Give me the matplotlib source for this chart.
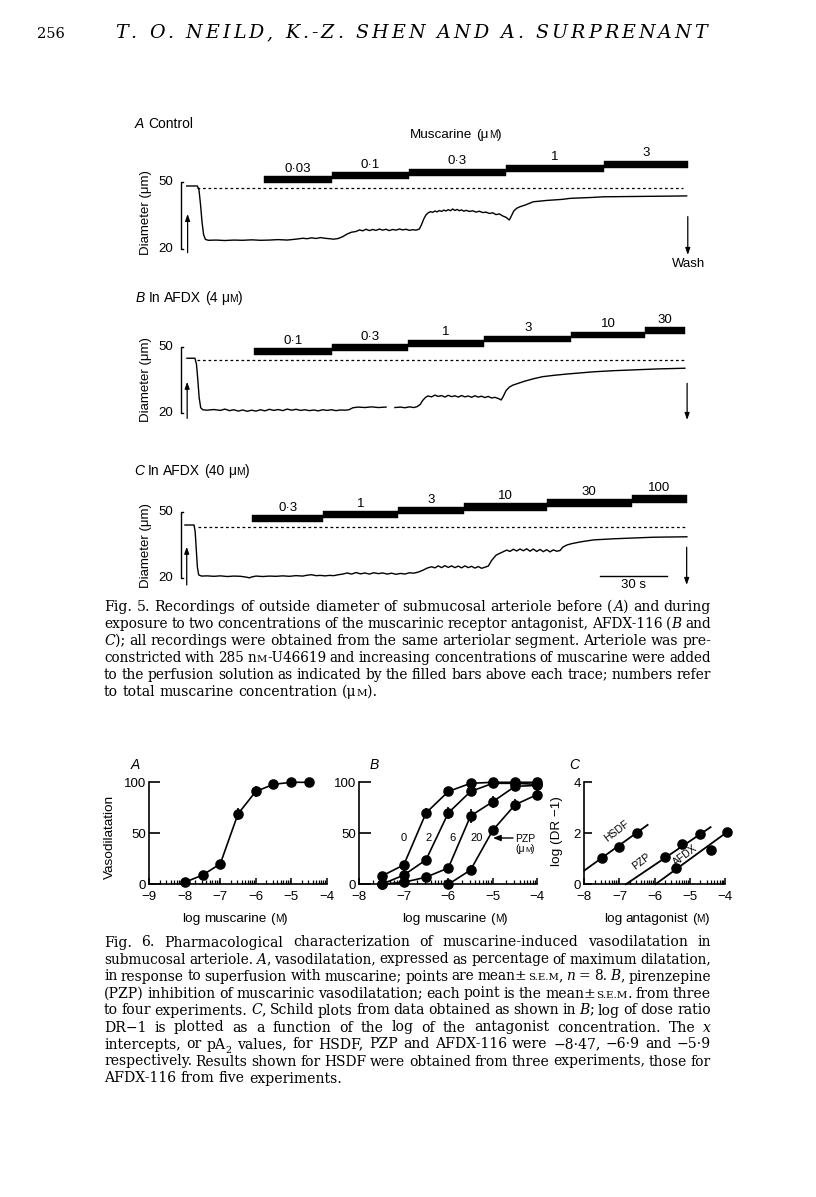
import re
import numpy as np
import matplotlib
matplotlib.use('Agg')
import matplotlib.pyplot as plt
from matplotlib.patches import Rectangle

plt.rcParams['font.family'] = ['Liberation Sans', 'DejaVu Sans']
plt.rcParams['axes.unicode_minus'] = True

W, H = 816, 1197
SANS = ['Liberation Sans', 'DejaVu Sans']
SERIF = ['DejaVu Serif']

# ------------------------------------------------------------------ data
# Fig. 5 recordings: (time s, outside diameter um)
trace_a = [(2.8, 48.1), (7.6, 48.1), (8.3, 46.5), (9.0, 40), (9.7, 32), (10.4, 26.5), (11.2, 24.4),
           (12.5, 24.0), (16, 24.1), (20, 23.9), (24, 24.1), (28, 24.0), (32, 24.2), (36, 24.0),
           (40, 24.1), (44, 24.3), (48, 24.1), (52, 24.5), (55, 24.9), (57, 24.7), (59, 25.1),
           (61, 24.8), (63, 25.2), (65, 24.9), (67, 24.7), (69, 24.5), (71, 24.8), (73, 25.6),
           (75, 26.8), (77, 27.6), (79, 27.9), (80.5, 28.6), (82, 28.2), (83.5, 28.9), (85, 28.3),
           (86.5, 28.8), (88, 28.4), (89.5, 29.0), (91, 28.5), (92.5, 28.9), (94, 28.3), (95.5, 28.8),
           (97, 28.5), (98.5, 29.0), (100, 28.6), (101.5, 28.9), (103, 28.4), (104.5, 28.7),
           (106, 28.5), (107.5, 29.0), (108.5, 31), (109.5, 33.5), (110.5, 35.3), (111.5, 36.2),
           (112.5, 36.7), (113.5, 36.4), (114.5, 37.0), (115.5, 36.6), (116.5, 37.2), (117.5, 36.8),
           (118.5, 37.4), (119.5, 37.0), (120.5, 37.6), (121.5, 37.1), (122.5, 37.9), (123.5, 37.2),
           (124.5, 37.7), (125.5, 37.1), (126.5, 37.5), (127.5, 36.9), (128.5, 37.3), (130, 36.8),
           (131.5, 37.1), (133, 36.5), (134.5, 36.9), (136, 36.3), (137.5, 36.5), (139, 35.9),
           (140.5, 36.2), (142, 35.4), (143.5, 35.7), (145, 34.8), (146.5, 34.2), (148, 33.0),
           (149, 35.0), (150, 37.0), (151.3, 38.2), (152.8, 38.9), (155, 39.6), (158.8, 41.1),
           (162, 41.4), (165, 41.7), (168, 41.9), (171, 42.1), (173, 42.3), (175.3, 42.6),
           (180, 42.8), (185, 43.0), (190.3, 43.3), (200, 43.4), (210, 43.5), (220, 43.6),
           (227.8, 43.7)]
trace_b = [(2.9, 44.8), (6.5, 44.8), (7.2, 42), (7.8, 35), (8.4, 27), (9.1, 22.5), (10, 21.6),
           (12, 21.4), (15, 21.7), (18, 21.3), (20, 21.9), (22, 21.2), (24, 21.6), (26, 21.0),
           (28, 21.5), (30, 20.9), (32, 21.4), (34, 21.0), (36, 21.6), (38, 21.1), (40, 21.8),
           (42, 21.3), (44, 21.7), (46, 21.2), (48, 21.9), (50, 21.4), (52, 21.8), (54, 21.3),
           (56, 21.6), (58, 21.2), (60, 21.5), (62, 21.1), (64, 21.6), (66, 21.3), (68, 21.6),
           (70, 21.2), (72, 21.5), (74, 21.4), (75.8, 21.6), (77.6, 22.5), (80, 22.8), (83, 22.6),
           (86, 22.9), (89, 22.6), (92.5, 22.8), (94.5, np.nan), (96.5, 22.6), (99, 22.8),
           (101, 22.5), (103, 22.9), (105, 22.6), (106.5, 23.0), (107.9, 24.0), (109, 25.8),
           (110.3, 27.2), (111.4, 27.8), (113, 27.4), (114.5, 28.2), (116, 27.6), (117.5, 28.0),
           (119, 27.3), (120.5, 28.1), (122, 27.5), (123.5, 27.9), (125, 27.3), (126.5, 28.0),
           (128, 27.4), (129.5, 27.8), (131, 27.2), (132.5, 27.9), (134, 27.3), (135.5, 27.7),
           (137, 27.1), (138.5, 27.6), (140, 26.9), (141.5, 27.2), (143.4, 26.5), (144.3, 26.0),
           (145.2, 27.5), (146.5, 30.2), (148, 31.8), (149.6, 32.7), (152, 33.5), (155, 34.5),
           (159, 35.6), (163, 36.5), (168, 37.1), (174, 37.7), (180, 38.2), (186, 38.7),
           (195, 39.2), (205, 39.6), (215, 40.0), (227, 40.3)]
trace_c = [(2.0, 44.0), (6.1, 44.0), (6.6, 41), (7.1, 33), (7.6, 25), (8.2, 21.5), (9.5, 21.0),
           (12, 21.1), (15, 20.9), (18, 21.1), (21, 20.8), (24, 21.0), (27, 20.9), (29.8, 20.5),
           (31, 20.2), (32, 20.6), (34, 21.0), (37, 20.8), (40, 21.0), (43, 20.9), (46, 21.1),
           (49, 20.9), (52, 21.2), (55, 21.0), (57, 21.4), (59, 21.6), (61, 21.2), (63, 21.3),
           (65, 21.1), (67, 21.3), (69, 21.2), (71, 21.6), (73, 21.9), (75, 22.4), (77, 21.9),
           (79, 22.6), (81, 22.0), (83, 22.4), (85, 21.9), (87, 22.5), (89, 22.1), (91, 22.4),
           (93, 21.9), (95, 22.3), (97, 21.8), (99, 22.2), (101, 21.9), (103, 22.5), (105, 22.3),
           (107, 22.8), (109, 23.6), (111, 24.6), (113, 25.2), (114.5, 24.7), (116, 25.6),
           (117.5, 24.8), (119, 25.7), (120.5, 24.9), (122, 25.6), (123.5, 24.8), (125, 25.5),
           (126.5, 24.7), (128, 25.6), (129.5, 24.8), (131, 25.4), (132.5, 24.6), (134, 25.3),
           (135.5, 24.5), (137, 25.0), (138.5, 25.5), (140, 28.0), (142, 30.4), (143.8, 31.3),
           (145.3, 32.0), (146.8, 32.7), (148.3, 32.1), (149.8, 33.1), (151.3, 32.3), (152.8, 33.2),
           (154.3, 32.4), (155.8, 33.3), (157.3, 32.2), (158.8, 33.2), (160.3, 32.1), (161.8, 33.0),
           (163.3, 32.0), (164.8, 32.9), (166.3, 31.9), (167.8, 32.8), (169.3, 32.2), (170.8, 32.5),
           (172, 34.0), (173.9, 35.0), (176, 35.6), (180, 36.4), (185.9, 37.3), (195, 37.8),
           (205, 38.2), (212.9, 38.5), (220, 38.6), (227.9, 38.7)]

# muscarine application times (s) and concentrations (uM)
bars_a_start = [37.5, 68.2, 102.7, 146.4, 190.5]
bars_a_end = 228.4
bars_a_labels = ['0·03', '0·1', '0·3', '1', '3']
bars_b_start = [33.2, 68.4, 102.2, 136.7, 175.8, 208.9]
bars_b_end = 227.0
bars_b_labels = ['0·1', '0·3', '1', '3', '10', '30']
bars_c_start = [32.3, 64.3, 98.0, 127.7, 164.8, 203.1]
bars_c_end = 227.8
bars_c_labels = ['0·3', '1', '3', '10', '30', '100']
resting_diam = [47.4, 44.0, 43.3]   # dashed reference levels (um)

# Fig. 6 A
fa_x = [-8, -7.5, -7, -6.5, -6, -5.5, -5, -4.5]
fa_y = [2, 9, 20, 69, 91, 98, 100, 100]
fa_err = [0, 0, 2, 6, 5, 1, 0, 0]
# Fig. 6 B (PZP 0, 2, 6, 20 uM)
fb0_x = [-7.5, -7, -6.5, -6, -5.5, -5, -4.5, -4]
fb0_y = [8, 19, 70, 91, 99, 100, 100, 100]
fb0_err = [0, 0, 5, 4, 2, 0, 0, 0]
fb2_x = [-7.5, -7, -6.5, -6, -5.5, -5, -4.5, -4]
fb2_y = [0, 9, 24, 70, 91, 99, 99, 98]
fb2_err = [0, 0, 3, 6, 3, 2, 0, 0]
fb6_x = [-7.5, -7, -6.5, -6, -5.5, -5, -4.5, -4]
fb6_y = [0, 2, 7, 16, 67, 81, 96, 97]
fb6_err = [0, 0, 2, 3, 7, 6, 5, 3]
fb20_x = [-6, -5.5, -5, -4.5, -4]
fb20_y = [0, 14, 53, 78, 88]
fb20_err = [0, 5, 4, 6, 5]
# Fig. 6 C Schild plots
hsdf_x = [-7.5, -7, -6.5]
hsdf_y = [1.02, 1.48, 2.0]
hsdf_fit_x = [-8, -6.2]
hsdf_fit_y = [0.54, 2.33]
pzp_x = [-5.7, -5.22, -4.7]
pzp_y = [1.08, 1.6, 1.97]
pzp_fit_x = [-6.82, -4.41]
pzp_fit_y = [0, 2.24]
afdx_x = [-5.4, -4.4, -3.95]
afdx_y = [0.63, 1.35, 2.07]
afdx_fit_x = [-5.98, -3.89]
afdx_fit_y = [0, 2.1]

caption5 = [
    "Fig. 5. Recordings of outside diameter of submucosal arteriole before ({i|A}) and during",
    "exposure to two concentrations of the muscarinic receptor antagonist, AFDX-116 ({i|B} and",
    "{i|C}); all recordings were obtained from the same arteriolar segment. Arteriole was pre-",
    "constricted with 285 n{s|M}-U46619 and increasing concentrations of muscarine were added",
    "to the perfusion solution as indicated by the filled bars above each trace; numbers refer",
    "to total muscarine concentration (μ{s|M}).",
]
caption6 = [
    "Fig. 6. Pharmacological characterization of muscarine-induced vasodilatation in",
    "submucosal arteriole. {i|A}, vasodilatation, expressed as percentage of maximum dilatation,",
    "in response to superfusion with muscarine; points are mean±{s|s.e.m}, {i|n} = 8. {i|B}, pirenzepine",
    "(PZP) inhibition of muscarinic vasodilatation; each point is the mean±{s|s.e.m}. from three",
    "to four experiments. {i|C}, Schild plots from data obtained as shown in {i|B}; log of dose ratio",
    "DR−1 is plotted as a function of the log of the antagonist concentration. The {i|x}",
    "intercepts, or pA{b|2} values, for HSDF, PZP and AFDX-116 were −8·47, −6·9 and −5·9",
    "respectively. Results shown for HSDF were obtained from three experiments, those for",
    "AFDX-116 from five experiments.",
]
header = 'T. O. NEILD, K.-Z. SHEN AND A. SURPRENANT'

# ------------------------------------------------------------------ page
fig = plt.figure(figsize=(W / 100, H / 100), dpi=100)
fig.patch.set_facecolor('white')
page = fig.add_axes([0, 0, 1, 1])
page.set_xlim(0, W)
page.set_ylim(H, 0)
page.axis('off')
R = fig.canvas.get_renderer()

SEG = re.compile(r'\{(\w)\|([^}]*)\}')


def parse(word):
    out, pos = [], 0
    for m in SEG.finditer(word):
        if m.start() > pos:
            out.append(('r', word[pos:m.start()]))
        out.append((m.group(1), m.group(2)))
        pos = m.end()
    if pos < len(word):
        out.append(('r', word[pos:]))
    return out


def make_word(word, y, size, family):
    objs = []
    for st, tx in parse(word):
        kw = dict(fontfamily=family, fontsize=size, va='baseline', ha='left', color='k')
        dy = 0
        if st == 'i':
            kw['fontstyle'] = 'italic'
        elif st == 's':
            tx = tx.upper()
            kw['fontsize'] = size * 0.74
        elif st == 'b':
            kw['fontsize'] = size * 0.68
            dy = size * 0.3 * 100 / 72
        o = page.text(0, y + dy, tx, **kw)
        objs.append([o, o.get_window_extent(R).width])
    return objs


def space_w(size, family):
    a = page.text(0, 0, 'x x', fontsize=size, fontfamily=family)
    b = page.text(0, 0, 'xx', fontsize=size, fontfamily=family)
    w = a.get_window_extent(R).width - b.get_window_extent(R).width
    a.remove()
    b.remove()
    return w


def word_sum(text, size, family):
    items = [make_word(w, 0, size, family) for w in text.split(' ')]
    tot = sum(w for it in items for _, w in it)
    for it in items:
        for o, _ in it:
            o.remove()
    return tot, len(items)


def rich_line(text, x, y, size, family, width=None, ha='left'):
    words = text.split(' ')
    items = [make_word(w, y, size, family) for w in words]
    wws = [sum(w for _, w in it) for it in items]
    sp = space_w(size, family)
    total = sum(wws) + sp * (len(words) - 1)
    if width is not None and len(words) > 1:
        gap = (width - sum(wws)) / (len(words) - 1)
        x0 = x
    else:
        gap = sp
        x0 = x - (total / 2 if ha == 'center' else total if ha == 'right' else 0)
    cx = x0
    for it, ww in zip(items, wws):
        px = cx
        for o, w in it:
            o.set_x(px)
            px += w
        cx += ww + gap


def spaced(text, x0, x1, y, family, style='normal', track=3.2):
    # font size chosen so the text plus a letter tracking spans x0..x1
    probe = page.text(0, 0, text, fontsize=10, fontfamily=family, fontstyle=style)
    w10 = probe.get_window_extent(R).width
    probe.remove()
    size = 10 * (x1 - x0 - track * (len(text) - 1)) / w10
    objs, ws = [], []
    for ch in text:
        if ch == ' ':
            objs.append(None)
            ws.append(space_w(size, family))
            continue
        o = page.text(0, y, ch, fontsize=size, fontfamily=family, fontstyle=style, va='baseline')
        objs.append(o)
        ws.append(o.get_window_extent(R).width)
    extra = (x1 - x0 - sum(ws)) / (len(text) - 1)
    cx = x0
    for o, w in zip(objs, ws):
        if o is not None:
            o.set_x(cx)
        cx += w + extra


# header
page.text(37, 38.5, '256', fontsize=10.5, fontfamily=SERIF, va='baseline')
spaced(header, 115, 707, 38.5, SERIF, 'italic')

# ------------------------------------------------------------------ Fig. 5 traces
X0_PX, PX_PER_S = 180.5, 2.222
TR_LEFT, TR_RIGHT = 120, 725


def trace_axes(y50, y20, top, bottom):
    ax = fig.add_axes([TR_LEFT / W, 1 - bottom / H, (TR_RIGHT - TR_LEFT) / W, (bottom - top) / H])
    ax.set_xlim((TR_LEFT - X0_PX) / PX_PER_S, (TR_RIGHT - X0_PX) / PX_PER_S)
    k = (y20 - y50) / 30.0
    ax.set_ylim(20 - (bottom - y20) / k, 20 + (y20 - top) / k)
    ax.axis('off')
    return ax


def arrow(ax, t, y_from, y_to):
    ax.annotate('', xy=(t, y_to), xytext=(t, y_from),
                arrowprops=dict(arrowstyle='-|>,head_length=0.4,head_width=0.14', lw=0.9,
                                color='k', shrinkA=0, shrinkB=0))


def draw_panel(ax, trace, starts, end, labels, rest, dash_t, bar_bottom0, bar_step, bar_h,
               up, down):
    t = [p[0] for p in trace]
    d = [p[1] for p in trace]
    ax.plot(t, d, color='k', lw=1.0, solid_joinstyle='round')
    ax.plot(dash_t, [rest, rest], color='k', lw=0.9, ls=(0, (2.2, 2.2)))
    ends = list(starts[1:]) + [end]
    for i, (s, e, lab) in enumerate(zip(starts, ends, labels)):
        b = bar_bottom0 + i * bar_step
        ax.add_patch(Rectangle((s, b), e - s, bar_h, facecolor='k', edgecolor='k', lw=0.3))
        ax.text((s + e) / 2, b + bar_h + 2.0, lab, ha='center', va='baseline', fontsize=9.5)
    ax.plot([1.1, 0, 0, 1.1], [50, 50, 20, 20], color='k', lw=1.0)
    ax.text(-3.3, 50, '50', ha='right', va='center', fontsize=9.5)
    ax.text(-3.3, 20, '20', ha='right', va='center', fontsize=9.5)
    arrow(ax, up[0], up[1], up[2])
    arrow(ax, down[0], down[1], down[2])


axA = trace_axes(181.7, 249.3, 135, 280)
draw_panel(axA, trace_a, bars_a_start, bars_a_end, bars_a_labels, resting_diam[0], [7.4, 226],
           49.3, 1.72, 3.1, (3.2, 18.5, 35.7), (228.3, 34.5, 17.5))
axA.text(228.8, 13.3, 'Wash', ha='center', va='center', fontsize=9.5)

axB = trace_axes(346.7, 413.3, 305, 440)
draw_panel(axB, trace_b, bars_b_start, bars_b_end, bars_b_labels, resting_diam[1], [7.3, 227],
           46.3, 1.88, 3.0, (3.0, 17.7, 34.2), (228.0, 33.5, 17.0))

axC = trace_axes(511.7, 578.3, 475, 605)
draw_panel(axC, trace_c, bars_c_start, bars_c_end, bars_c_labels, resting_diam[2], [7.9, 227],
           45.2, 1.78, 3.3, (2.8, 17.0, 34.2), (227.8, 34.0, 17.0))
axC.plot([188.8, 218.8], [21, 21], color='k', lw=1.0)
axC.text(203.8, 16.8, '30 s', ha='center', va='center', fontsize=9.5)

rich_line('{i|A} Control', 135, 128, 10, SANS)
rich_line('Muscarine (μ{s|M})', 456, 138, 9.7, SANS, ha='center')
rich_line('{i|B} In AFDX (4 μ{s|M})', 135.6, 302.3, 10, SANS)
rich_line('{i|C} In AFDX (40 μ{s|M})', 134, 474.7, 10, SANS)
for yc in (213, 380, 546):
    page.text(146, yc, 'Diameter (μm)', rotation=90, ha='center', va='center', fontsize=9.5)

# ------------------------------------------------------------------ Fig. 6
def fig6_axes(left, right, top, bottom, xlim, ylim, yticks, ylen):
    ax = fig.add_axes([left / W, 1 - bottom / H, (right - left) / W, (bottom - top) / H])
    ax.set_facecolor('none')
    ax.set_xlim(*xlim)
    ax.set_ylim(*ylim)
    for s in ('top', 'right'):
        ax.spines[s].set_visible(False)
    for s in ('left', 'bottom'):
        ax.spines[s].set_linewidth(1.2)
    ax.set_yticks(yticks)
    ax.set_xticks(range(xlim[0], xlim[1] + 1))
    ax.set_xticks([dd + np.log10(kk) for dd in range(xlim[0], xlim[1]) for kk in range(2, 10)],
                  minor=True)
    ax.tick_params(axis='y', direction='in', length=ylen, width=1.2, pad=2.5, labelsize=9.5)
    ax.tick_params(axis='x', which='major', direction='in', length=4.5, width=1.1, pad=4.5,
                   labelsize=9.5)
    ax.tick_params(axis='x', which='minor', direction='in', length=2.6, width=0.9)
    return ax


def series(ax, x, y, err=None):
    ax.plot(x, y, '-o', color='k', lw=1.2, ms=6.6, clip_on=False, zorder=3)
    if err is not None:
        ax.errorbar(x, y, yerr=err, fmt='none', ecolor='k', elinewidth=1.2, capsize=0,
                    clip_on=False, zorder=3)


ax6a = fig6_axes(149.3, 326.7, 782.3, 884.3, (-9, -4), (0, 100), [0, 50, 100], 8)
series(ax6a, fa_x, fa_y, fa_err)

ax6b = fig6_axes(359.3, 537.3, 782.3, 884.3, (-8, -4), (0, 100), [0, 50, 100], 8.5)
series(ax6b, fb0_x, fb0_y, fb0_err)
series(ax6b, fb2_x, fb2_y, fb2_err)
series(ax6b, fb6_x, fb6_y, fb6_err)
series(ax6b, fb20_x, fb20_y, fb20_err)

ax6c = fig6_axes(584.3, 725, 782.3, 884.3, (-8, -4), (0, 4), [0, 2, 4], 5.5)
for fx, fy, px_, py_ in ((hsdf_fit_x, hsdf_fit_y, hsdf_x, hsdf_y),
                         (pzp_fit_x, pzp_fit_y, pzp_x, pzp_y),
                         (afdx_fit_x, afdx_fit_y, afdx_x, afdx_y)):
    ax6c.plot(fx, fy, color='k', lw=1.3, clip_on=False)
    ax6c.plot(px_, py_, 'o', color='k', ms=6.6, clip_on=False, zorder=3)

for x, letter in ((135.7, 'A'), (374, 'B'), (574.3, 'C')):
    page.text(x, 769, letter, fontsize=10, fontstyle='italic', ha='center', va='baseline')
rich_line('log muscarine ({s|M})', 235, 922, 9.7, SANS, ha='center')
rich_line('log muscarine ({s|M})', 455, 922, 9.7, SANS, ha='center')
rich_line('log antagonist ({s|M})', 656.7, 922, 9.7, SANS, ha='center')
page.text(110, 836.7, 'Vasodilatation', rotation=90, ha='center', va='center', fontsize=9.7)
page.text(556.7, 831, 'log (DR −1)', rotation=90, ha='center', va='center', fontsize=9.7)

for x, lab in ((404, '0'), (428.3, '2'), (452.7, '6'), (476.7, '20')):
    page.text(x, 838, lab, ha='center', va='center', fontsize=8)
page.annotate('', xy=(493, 838), xytext=(513, 838),
              arrowprops=dict(arrowstyle='-|>,head_length=0.45,head_width=0.18', lw=1.0, color='k',
                              shrinkA=0, shrinkB=0))
page.text(515, 842, 'PZP', fontsize=7.5, va='baseline')
rich_line('(μ{s|M})', 515.5, 851.5, 7.5, SANS)
for (x, y), lab in (((616.7, 830.7), 'HSDF'), ((641.7, 861.7), 'PZP'), ((685, 855), 'AFDX')):
    page.text(x, y, lab, rotation=37, ha='center', va='center', fontsize=7.5)

# ------------------------------------------------------------------ captions
CAP_L, CAP_R = 104, 711
CAP_W = CAP_R - CAP_L
REF = 10.0
justified = caption5[:-1] + caption6[:-1]
sp_ref = space_w(REF, SERIF)
# size at which each justified line fits with a minimum word gap
fits = {}
for line in justified:
    ws, n = word_sum(line, REF, SERIF)
    fits[line] = REF * CAP_W / (ws + 0.8 * sp_ref * (n - 1))
base = float(np.median(list(fits.values())))


def line_size(line):
    return min(base, fits.get(line, base))


for i, line in enumerate(caption5):
    last = i == len(caption5) - 1
    rich_line(line, CAP_L, 611 + 17 * i, line_size(line), SERIF, None if last else CAP_W)
for i, line in enumerate(caption6):
    last = i == len(caption6) - 1
    rich_line(line, CAP_L, 946.5 + 17 * i, line_size(line), SERIF, None if last else CAP_W)

fig.savefig('out.png', dpi=100, facecolor='white')
